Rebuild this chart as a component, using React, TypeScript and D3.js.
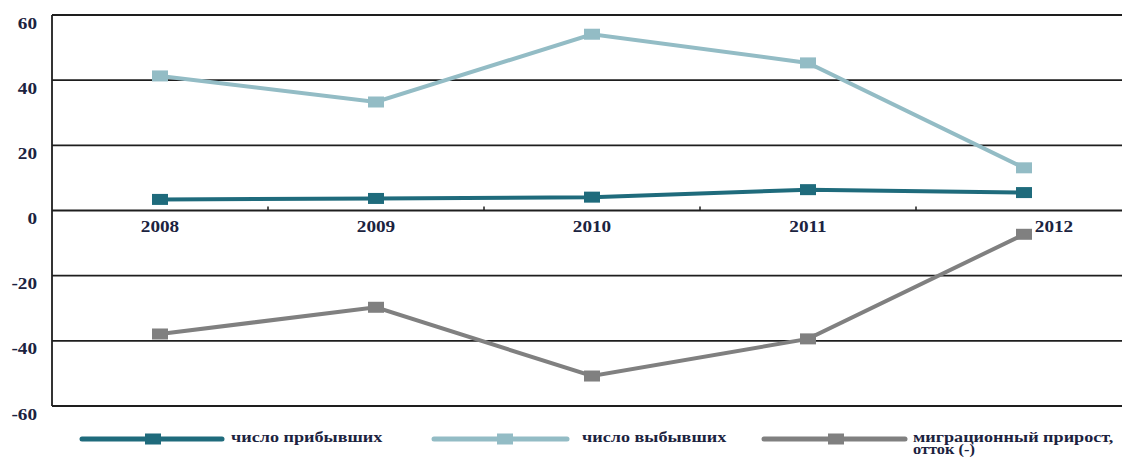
import React from "react";
import * as d3 from "d3";

const years = ["2008", "2009", "2010", "2011", "2012"];
const arrived = [3.4, 3.7, 4.1, 6.4, 5.5];
const departed = [41.3, 33.3, 54.1, 45.3, 13.1];
const migration = [-37.9, -29.7, -50.8, -39.4, -7.3];
const yTicks = [60, 40, 20, 0, -20, -40, -60];
const seriesNames = ["число прибывших", "число выбывших", "миграционный прирост,|отток (-)"];
const seriesColors = ["#1f6b7c", "#93bcc5", "#808080"];

const W = 1122;
const H = 457;
const left = 52;
const right = 1132;
const top = 15;
const bottom = 406;

export default function App() {
  const x = d3.scaleBand<string>().domain(years).range([left, right]).padding(0);
  const y = d3.scaleLinear().domain([-60, 60]).range([bottom, top]);
  const cx = (i: number) => (x(years[i]) as number) + x.bandwidth() / 2;
  const line = d3
    .line<number>()
    .x((_, i) => cx(i))
    .y((v) => y(v));
  const series = [arrived, departed, migration];
  const legend = [
    { x1: 82, x2: 222, m: 153, tx: 231 },
    { x1: 434, x2: 567, m: 505, tx: 582 },
    { x1: 764, x2: 905, m: 836, tx: 913 },
  ];
  const font = "'Liberation Serif', 'Times New Roman', serif";
  const textFill = "#1c2340";
  return (
    <svg width={W} height={H} style={{ position: "absolute", left: 0, top: 0, background: "#fff" }}>
      {yTicks.map((t) => (
        <line key={"g" + t} x1={left} x2={right} y1={y(t)} y2={y(t)} stroke="#1e1e1e" strokeWidth={1.8} />
      ))}
      <line x1={left} x2={left} y1={top} y2={bottom} stroke="#1e1e1e" strokeWidth={1.8} />
      {years.slice(1).map((yr) => (
        <line key={"t" + yr} x1={x(yr) as number} x2={x(yr) as number} y1={y(0)} y2={y(0) - 4} stroke="#1e1e1e" strokeWidth={1.5} />
      ))}
      {yTicks.map((t) => (
        <text key={"l" + t} transform={`translate(37,${y(t) + 13.5}) scale(1.2,1)`} textAnchor="end" fontFamily={font} fontWeight="bold" fontSize={16} fill={textFill}>
          {t}
        </text>
      ))}
      {years.map((yr, i) => (
        <text key={"x" + yr} transform={`translate(${cx(i) + (i === years.length - 1 ? 30 : 0)},${y(0) + 21}) scale(1.2,1)`} textAnchor="middle" fontFamily={font} fontWeight="bold" fontSize={16} fill={textFill}>
          {yr}
        </text>
      ))}
      {series.map((s, k) => (
        <g key={"s" + k}>
          <path d={line(s) as string} fill="none" stroke={seriesColors[k]} strokeWidth={4} />
          {s.map((v, i) => (
            <rect key={i} x={cx(i) - 8} y={y(v) - 5.5} width={16} height={11} fill={seriesColors[k]} />
          ))}
        </g>
      ))}
      {legend.map((l, k) => (
        <g key={"lg" + k}>
          <line x1={l.x1} x2={l.x2} y1={439} y2={439} stroke={seriesColors[k]} strokeWidth={5} strokeLinecap="round" />
          <rect x={l.m - 8} y={433.5} width={16} height={11} fill={seriesColors[k]} />
          {seriesNames[k].split("|").map((part, j) => (
            <text key={j} transform={`translate(${l.tx},${(j === 0 ? 442 : 454)}) scale(1.17,1)`} fontFamily={font} fontWeight="bold" fontSize={j === 0 ? 15.5 : 14} fill={textFill}>
              {part}
            </text>
          ))}
        </g>
      ))}
    </svg>
  );
}
